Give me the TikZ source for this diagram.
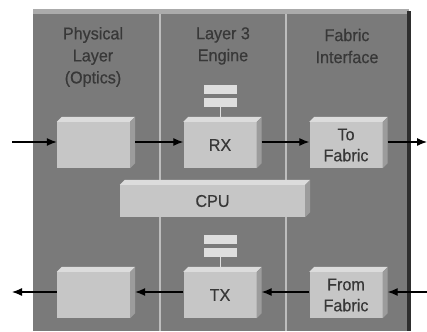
\documentclass[tikz,border=0pt]{standalone}
\usepackage{fontspec}
\setmainfont{Liberation Sans}[FakeStretch=0.95, FakeBold=0.5]
\usetikzlibrary{%
	arrows.meta,%
	calc,%
	positioning
}

\definecolor{panelgray}{HTML}{7A7A7A}
\definecolor{paneltop}{HTML}{ABABAB}
\definecolor{paneledge}{HTML}{2E2E2E}
\definecolor{divgray}{HTML}{BDBDBD}
\definecolor{boxface}{HTML}{C6C6C6}
\definecolor{boxtop}{HTML}{DCDCDC}
\definecolor{boxside}{HTML}{9C9C9C}
\definecolor{memgray}{HTML}{DEDEDE}
\definecolor{labelgray}{HTML}{383838}

\tikzset{
	blk/.style={fill=boxface, minimum width=73pt, minimum height=46pt, inner sep=0pt,
		align=center, text=labelgray, font=\fontsize{17}{21}\selectfont},
	cpublk/.style={blk, minimum width=185pt, minimum height=32pt},
	memrow/.style={fill=memgray, minimum width=33pt, minimum height=8.5pt, inner sep=0pt},
	header/.style={align=center, text=labelgray, font=\fontsize{17}{22}\selectfont},
	flow/.style={black, line width=1.2pt, -{Latex[length=10pt,width=8pt]}}
}

\begin{document}
\begin{tikzpicture}[x=1pt, y=1pt]
			\useasboundingbox (0,0) rectangle (427,331);
			
			% Draw the card with its three columns
			\fill[panelgray] (33,0) rectangle (407,317);
			\fill[paneltop] (33,317) rectangle (409,322);
			\fill[paneledge] (407,0) rectangle (411,320);
			\foreach \x in {160,286} {
				\draw[divgray, line width=1.5pt] (\x,0) -- (\x,317);
			}
			
			% Column headings
			\node[header] (hphys) at (93,274) {Physical\\Layer\\(Optics)};
			\node[header] (heng) at (223,285) {Layer 3\\Engine};
			\node[header] (hfab) at (347,285) {Fabric\\Interface};
			
			% Receive row
			\node[blk] (physrx) at (93.5,186) {};
			\node[blk] (rx) at (220,186) {RX};
			\node[blk] (tofab) at (346,186) {To\\Fabric};
			
			% CPU in the middle
			\node[cpublk] (cpu) at (212.5,130) {CPU};
			
			% Transmit row
			\node[blk] (phystx) at (93.5,36) {};
			\node[blk] (tx) at (220,36) {TX};
			\node[blk] (fromfab) at (346,36) {From\\Fabric};
			
			% Give every box its top and side faces
			\foreach \n in {physrx,rx,tofab,cpu,phystx,tx,fromfab} {
				\fill[boxtop] (\n.north west) -- ++(5,5) -- ($(\n.north east)+(5,5)$) -- (\n.north east) -- cycle;
				\fill[boxside] (\n.north east) -- ++(5,5) -- ($(\n.south east)+(5,5)$) -- (\n.south east) -- cycle;
			}
			
			% Memory stacks on the engine boxes
			\node[memrow, above=15pt of rx.north] (rxmema) {};
			\node[memrow, above=4pt of rxmema] (rxmemb) {};
			\draw[memgray, line width=1pt] (rxmema.south) -- ([yshift=5pt]rx.north);
			\node[memrow, above=15pt of tx.north] (txmema) {};
			\node[memrow, above=4pt of txmema] (txmemb) {};
			\draw[memgray, line width=1pt] (txmema.south) -- ([yshift=5pt]tx.north);
			
			% Ends of the outside connections
			\coordinate (inrx) at (12,189);
			\coordinate (outrx) at (427,189);
			\coordinate (intx) at (427,39);
			\coordinate (outtx) at (12,39);
			
			% Receive path
			\draw[flow] (inrx) -- (physrx.west |- inrx);
			\draw[flow] ([xshift=5pt]physrx.east |- inrx) -- (rx.west |- inrx);
			\draw[flow] ([xshift=5pt]rx.east |- inrx) -- (tofab.west |- inrx);
			\draw[flow] ([xshift=5pt]tofab.east |- outrx) -- (outrx);
			
			% Transmit path
			\draw[flow] (intx) -- ([xshift=5pt]fromfab.east |- intx);
			\draw[flow] (fromfab.west |- intx) -- ([xshift=5pt]tx.east |- intx);
			\draw[flow] (tx.west |- intx) -- ([xshift=5pt]phystx.east |- intx);
			\draw[flow] (phystx.west |- outtx) -- (outtx);
		\end{tikzpicture}
\end{document}
